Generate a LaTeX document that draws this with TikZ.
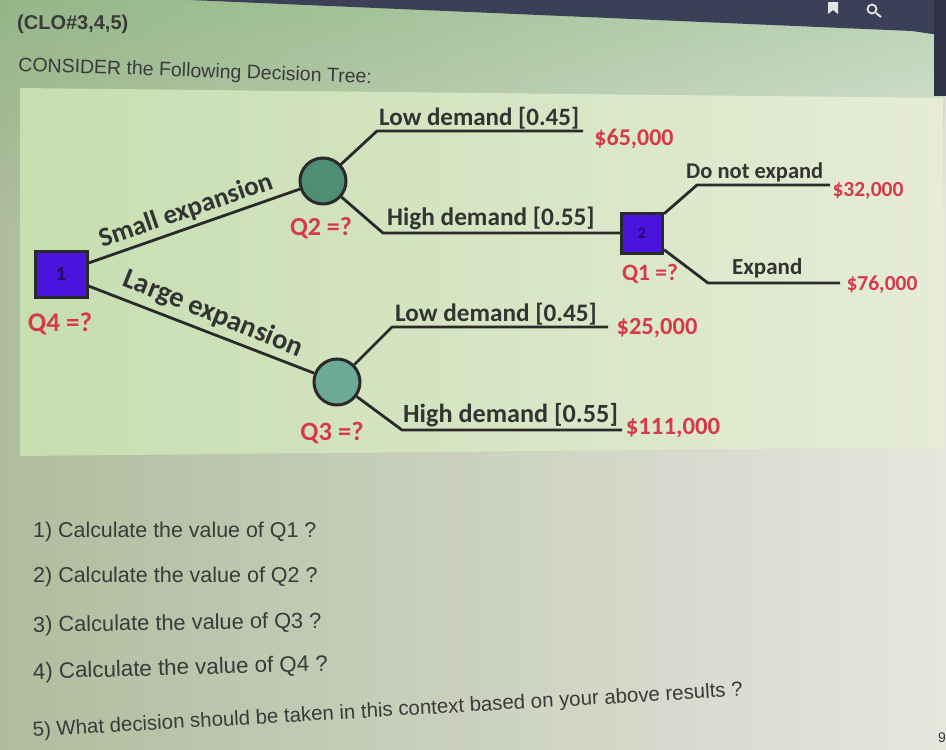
\documentclass[tikz,border=0pt]{standalone}
\usepackage{fontspec}
\usetikzlibrary{fadings}
\setmainfont{Carlito}
\newfontfamily\qfont{Liberation Sans}
\definecolor{bgL}{HTML}{B0BC9E}
\definecolor{bgR}{HTML}{E6E6DF}
\definecolor{panelL}{HTML}{C6DEB0}
\definecolor{panelR}{HTML}{E6ECD6}
\definecolor{edgec}{HTML}{2A2A2A}
\definecolor{redlab}{HTML}{D6394A}
\definecolor{decfill}{HTML}{4A14DC}
\definecolor{chanceA}{HTML}{4F8E74}
\definecolor{chanceB}{HTML}{6DAA96}
\definecolor{txt}{HTML}{333333}
\definecolor{qtxt}{HTML}{3A3A3A}
\definecolor{topbar}{HTML}{3B3F58}
\tikzset{
  decbox/.style={draw=edgec, line width=3pt, fill=decfill, inner sep=0pt, text=decfill!45!black, font=\bfseries\fontsize{20}{20}\selectfont},
  chancenode/.style={circle, draw=edgec, line width=3pt, minimum size=46pt, inner sep=0pt},
  edgeline/.style={draw=edgec, line width=2.8pt, line join=round},
  blab/.style={text=txt, font=\bfseries, inner sep=0pt, anchor=south west},
  rlab/.style={text=redlab, font=\bfseries, inner sep=0pt},
  qlab/.style={text=redlab, font=\bfseries, inner sep=0pt},
  qline/.style={text=qtxt, anchor=base west, inner sep=0pt},
}
\newcommand{\fsz}[1]{\fontsize{#1}{#1}\selectfont}
\begin{document}
\begin{tikzpicture}[x=1pt, y=-1pt]
\useasboundingbox (0,0) rectangle (946,750);
% page background
\shade[left color=bgL, right color=bgR] (0,0) rectangle (946,750);
\fill[green!35!gray, opacity=0.3, path fading=south] (0,0) rectangle (946,220);
% top dark bar and icons
\fill[topbar] (190,0) -- (946,0) -- (946,36) -- (912,31) -- cycle;
\fill[topbar!80!black] (934,0) rectangle (946,96);
\fill[white!80!gray] (828,2) -- (838,2) -- (838,14) -- (833,10) -- (828,14) -- cycle;
\draw[white!80!gray, line width=1.8pt] (872,9) circle (4.5);
\draw[white!80!gray, line width=2pt] (876,13) -- (881,17);
% diagram panel
\shade[left color=panelL, right color=panelR] (20,88) -- (943,98) -- (943,447) -- (20,456) -- cycle;

% header texts
\node[text=qtxt, font=\qfont\bfseries\fsz{20}, anchor=west, inner sep=0pt] (clo) at (17,24) {(CLO\#3,4,5)};
\node[text=qtxt, font=\qfont\fsz{19.5}, anchor=base west, inner sep=0pt, rotate=-2] (consider) at (18,71) {CONSIDER the Following Decision Tree:};

% nodes
\node[decbox, minimum width=52pt, minimum height=46pt] (d1) at (61,274) {1};
\node[chancenode, fill=chanceA] (c2) at (323,181) {};
\node[chancenode, fill=chanceB] (c3) at (337,382) {};
\node[decbox, minimum width=41pt, minimum height=40pt, font=\bfseries\fsz{16}] (d2) at (642,233) {2};

% bend and end coordinates
\coordinate (b1) at (377,131); \coordinate (e1) at (583,131);
\coordinate (b2) at (383,233);
\coordinate (b3) at (697,185); \coordinate (e3) at (830,185);
\coordinate (b4) at (708,283); \coordinate (e4) at (840,283);
\coordinate (b5) at (392,327); \coordinate (e5) at (608,327);
\coordinate (b6) at (402,430); \coordinate (e6) at (622,430);

% connectors
\draw[edgeline] (d1.east |- 0,263) -- (c2);
\draw[edgeline] (d1.east |- 0,286) -- (c3);
\draw[edgeline] (c2) -- (b1) -- (e1);
\draw[edgeline] (c2) -- (b2) -- (d2);
\draw[edgeline] (d2) -- (b3) -- (e3);
\draw[edgeline] (d2) -- (b4) -- (e4);
\draw[edgeline] (c3) -- (b5) -- (e5);
\draw[edgeline] (c3) -- (b6) -- (e6);

% branch labels
\node[blab, anchor=center, rotate=19, font=\bfseries\fsz{27}] (lsmall) at (186,211) {Small expansion};
\node[blab, anchor=center, rotate=-22, font=\bfseries\fsz{28.5}] (llarge) at (213,314) {Large expansion};
\node[blab, font=\bfseries\fsz{25}] (l1) at (379,129) {Low demand [0.45]};
\node[blab, font=\bfseries\fsz{25.3}] (l2) at (387,230) {High demand [0.55]};
\node[blab, font=\bfseries\fsz{22.5}] (l3) at (686,182) {Do not expand};
\node[blab, font=\bfseries\fsz{23}] (l4) at (732,278) {Expand};
\node[blab, font=\bfseries\fsz{25.2}] (l5) at (395,325) {Low demand [0.45]};
\node[blab, font=\bfseries\fsz{26.2}] (l6) at (403,427) {High demand [0.55]};

% payoffs
\node[rlab, font=\bfseries\fsz{24}] (p1) at (634,139) {\$65,000};
\node[rlab, font=\bfseries\fsz{21.5}] (p3) at (868,191) {\$32,000};
\node[rlab, font=\bfseries\fsz{21.5}] (p4) at (882,285) {\$76,000};
\node[rlab, font=\bfseries\fsz{24.5}] (p5) at (657,328) {\$25,000};
\node[rlab, font=\bfseries\fsz{24.8}] (p6) at (673,428) {\$111,000};

% question marks on nodes
\node[qlab, font=\bfseries\fsz{27}] (q4) at (60,324) {Q4 =?};
\node[qlab, font=\bfseries\fsz{26}] (q2) at (321,228) {Q2 =?};
\node[qlab, font=\bfseries\fsz{26.5}] (q3) at (332,433) {Q3 =?};
\node[qlab, font=\bfseries\fsz{23.5}] (q1) at (650,274) {Q1 =?};

% questions
\node[qline, font=\qfont\fsz{21.4}] (qq1) at (33,537) {1) Calculate the value of Q1 ?};
\node[qline, font=\qfont\fsz{21.5}] (qq2) at (33,582) {2) Calculate the value of Q2 ?};
\node[qline, font=\qfont\fsz{21.8}, rotate=0.8] (qq3) at (33,632) {3) Calculate the value of Q3 ?};
\node[qline, font=\qfont\fsz{22.3}, rotate=1.6] (qq4) at (33,679) {4) Calculate the value of Q4 ?};
\node[qline, font=\qfont\fsz{20.4}, rotate=3.3] (qq5) at (33,737) {5) What decision should be taken in this context based on your above results ?};
\node[text=qtxt, font=\qfont\fsz{14}, anchor=east, inner sep=0pt] (nine) at (946,738) {9};
\end{tikzpicture}
\end{document}
